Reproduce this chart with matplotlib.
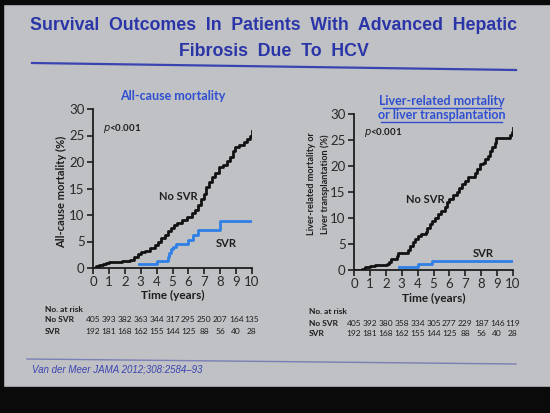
import matplotlib
matplotlib.use("Agg")
import matplotlib.pyplot as plt
from matplotlib.lines import Line2D
from matplotlib.patches import Rectangle

# ---------------- data ----------------
years = list(range(0, 11))

left_nosvr_t = [0.0, 0.2, 0.4, 0.6, 0.8, 1.0, 1.3, 1.8, 2.3, 2.6, 2.8, 3.0, 3.3, 3.6, 3.9, 4.1, 4.3, 4.5,
                4.7, 4.9, 5.1, 5.3, 5.6, 5.9, 6.2, 6.4, 6.6, 6.8, 6.95, 7.1, 7.3, 7.5, 7.7, 7.9, 8.2, 8.4,
                8.6, 8.8, 8.9, 9.2, 9.5, 9.7, 9.85, 10.0]
left_nosvr_v = [0.0, 0.3, 0.5, 0.8, 1.0, 1.1, 1.2, 1.3, 1.5, 2.0, 2.6, 3.0, 3.3, 3.8, 4.3, 5.0, 5.7, 6.3,
                6.9, 7.6, 8.2, 8.5, 9.0, 9.6, 10.3, 11.0, 11.8, 13.0, 14.0, 15.2, 16.3, 17.2, 18.0, 19.0, 19.5, 20.2,
                21.0, 22.0, 22.9, 23.3, 23.8, 24.3, 25.0, 25.8]

left_svr_t = [2.9, 4.0, 4.7, 4.8, 4.9, 5.0, 5.2, 6.0, 6.3, 6.6, 8.0, 10.0]
left_svr_v = [0.7, 1.3, 2.0, 2.8, 3.6, 4.0, 4.6, 5.3, 6.3, 7.2, 8.8, 8.8]

right_nosvr_t = [0.0, 0.5, 0.7, 1.0, 1.3, 2.1, 2.2, 2.35, 2.7, 2.75, 3.3, 3.4, 3.55, 3.7, 3.85, 4.0, 4.2, 4.5,
                 4.6, 4.75, 4.9, 5.1, 5.3, 5.5, 5.7, 5.85, 6.0, 6.2, 6.45, 6.6, 6.8, 7.0, 7.2, 7.5, 7.6, 7.75,
                 7.9, 8.1, 8.25, 8.4, 8.55, 8.7, 8.85, 8.95, 9.7, 9.8, 9.95, 10.0]
right_nosvr_v = [0.0, 0.2, 0.5, 0.7, 1.0, 1.1, 1.6, 2.2, 2.6, 3.3, 3.3, 3.9, 4.6, 5.3, 6.0, 6.6, 7.0, 7.3,
                 8.0, 8.8, 9.4, 10.0, 10.7, 11.4, 12.2, 13.0, 13.6, 14.5, 15.0, 15.8, 16.5, 17.2, 17.8, 17.9, 18.6, 19.4,
                 20.3, 20.6, 21.3, 22.0, 22.8, 23.6, 24.4, 25.3, 25.3, 26.0, 26.5, 27.3]

right_svr_t = [2.85, 4.05, 4.9, 10.0]
right_svr_v = [0.5, 1.1, 1.8, 1.8]

left_risk_nosvr = [405, 393, 382, 363, 344, 317, 295, 250, 207, 164, 135]
left_risk_svr = [192, 181, 168, 162, 155, 144, 125, 88, 56, 40, 28]
right_risk_nosvr = [405, 392, 380, 358, 334, 305, 277, 229, 187, 146, 119]
right_risk_svr = [192, 181, 168, 162, 155, 144, 125, 88, 56, 40, 28]

title_lines = ["Survival  Outcomes  In  Patients  With  Advanced  Hepatic", "Fibrosis  Due  To  HCV"]
citation = "Van der Meer JAMA 2012;308:2584\u201393"

# ---------------- style ----------------
W, H = 550, 413
BG = "#c0c1c5"
TITLE_BLUE = "#2a35a8"
PANEL_BLUE = "#2f4fd0"
SVR_BLUE = "#2f7fe6"
INK = "#1e1e1e"

fig = plt.figure(figsize=(W / 100, H / 100), dpi=100)
fig.patch.set_facecolor(BG)


def fx(px):
    return px / W


def fy(py):
    return 1 - py / H


# black photo borders
fig.add_artist(Rectangle((0, fy(413)), 1, fy(387) - fy(413), transform=fig.transFigure, color="#0a0a0a", zorder=0))
fig.add_artist(Rectangle((0, fy(4)), 1, 1 - fy(4), transform=fig.transFigure, color="#0a0a0a", zorder=0))
fig.add_artist(Rectangle((0, 0), fx(3), 1, transform=fig.transFigure, color="#0a0a0a", zorder=0))

# title
fig.text(fx(273), fy(26), title_lines[0], ha="center", va="center", fontsize=12.8,
         fontweight="bold", color=TITLE_BLUE, family="Liberation Sans")
fig.text(fx(274), fy(52), title_lines[1], ha="center", va="center", fontsize=12.8,
         fontweight="bold", color=TITLE_BLUE, family="Liberation Sans")
fig.add_artist(Line2D([fx(32), fx(516)], [fy(63), fy(70)], transform=fig.transFigure,
                      color="#3a44b0", lw=1.6))

# footer
fig.add_artist(Line2D([fx(27), fx(516)], [fy(359), fy(364)], transform=fig.transFigure,
                      color="#7a7fb5", lw=1.0))
fig.text(fx(32), fy(369), citation, ha="left", va="center", fontsize=7.0, style="italic",
         color="#3a44b0", family="Liberation Sans")


def make_axes(rect, nos_t, nos_v, svr_t, svr_v):
    ax = fig.add_axes(rect)
    ax.set_facecolor("none")
    ax.step(nos_t, nos_v, where="post", color="#111111", lw=2.0, zorder=3)
    ax.step(svr_t, svr_v, where="post", color=SVR_BLUE, lw=2.0, zorder=3)
    ax.set_xlim(0, 10)
    ax.set_ylim(0, 30)
    ax.set_xticks(years)
    ax.set_yticks([0, 5, 10, 15, 20, 25, 30])
    for s in ["top", "right"]:
        ax.spines[s].set_visible(False)
    for s in ["left", "bottom"]:
        ax.spines[s].set_color(INK)
        ax.spines[s].set_linewidth(1.3)
    ax.tick_params(direction="out", length=4, width=1.2, color=INK, labelsize=9.5,
                   labelcolor="#2a2a2a", pad=2)
    for lab in ax.get_xticklabels() + ax.get_yticklabels():
        lab.set_family("Lato")
    return ax


axL = make_axes([fx(93), fy(268), fx(252) - fx(93), fy(109) - fy(268)],
                left_nosvr_t, left_nosvr_v, left_svr_t, left_svr_v)
axR = make_axes([fx(354), fy(270), fx(513) - fx(354), fy(114) - fy(270)],
                right_nosvr_t, right_nosvr_v, right_svr_t, right_svr_v)

# panel titles
fig.text(fx(173), fy(96), "All-cause mortality", ha="center", va="center", fontsize=9,
         fontweight="bold", color=PANEL_BLUE, family="Lato")
fig.text(fx(442), fy(101), "Liver-related mortality", ha="center", va="center", fontsize=9,
         fontweight="bold", color=PANEL_BLUE, family="Lato")
fig.text(fx(442), fy(115), "or liver transplantation", ha="center", va="center", fontsize=9,
         fontweight="bold", color=PANEL_BLUE, family="Lato")
fig.add_artist(Line2D([fx(383), fx(501)], [fy(108), fy(108)], transform=fig.transFigure, color=PANEL_BLUE, lw=1.0))
fig.add_artist(Line2D([fx(381), fx(502)], [fy(122), fy(122)], transform=fig.transFigure, color=PANEL_BLUE, lw=1.0))

# y labels
fig.text(fx(62), fy(192), "All-cause mortality (%)", rotation=90, ha="center", va="center",
         fontsize=8, fontweight="bold", color=INK, family="Lato")
fig.text(fx(311), fy(184), "Liver-related mortality or", rotation=90, ha="center", va="center",
         fontsize=6.6, fontweight="bold", color=INK, family="Lato")
fig.text(fx(325), fy(184), "Liver transplantation (%)", rotation=90, ha="center", va="center",
         fontsize=6.6, fontweight="bold", color=INK, family="Lato")

# x labels
fig.text(fx(173), fy(295), "Time (years)", ha="center", va="center", fontsize=8.5,
         fontweight="bold", color=INK, family="Lato")
fig.text(fx(434), fy(298), "Time (years)", ha="center", va="center", fontsize=8.5,
         fontweight="bold", color=INK, family="Lato")

# p-values
for ax in (axL, axR):
    ax.text(0.06, 0.88, r"$\it{p}$<0.001", transform=ax.transAxes, ha="left", va="center",
            fontsize=7, fontweight="bold", color=INK, family="Lato")

# curve labels
axL.text(4.16, 13.5, "No SVR", ha="left", va="center", fontsize=8, fontweight="bold", color=INK, family="Lato")
axL.text(7.7, 4.6, "SVR", ha="left", va="center", fontsize=8, fontweight="bold", color=INK, family="Lato")
axR.text(3.24, 13.6, "No SVR", ha="left", va="center", fontsize=8, fontweight="bold", color=INK, family="Lato")
axR.text(7.5, 3.2, "SVR", ha="left", va="center", fontsize=8, fontweight="bold", color=INK, family="Lato")


# risk tables
def risk_table(ax, x_lab, y0, nos, svr):
    fig.text(fx(x_lab), fy(y0), "No. at risk", ha="left", va="center", fontsize=6,
             fontweight="bold", color=INK, family="Lato")
    fig.text(fx(x_lab), fy(y0 + 11), "No SVR", ha="left", va="center", fontsize=6,
             fontweight="bold", color=INK, family="Lato")
    fig.text(fx(x_lab), fy(y0 + 22), "SVR", ha="left", va="center", fontsize=6,
             fontweight="bold", color=INK, family="Lato")
    for t, a, b in zip(years, nos, svr):
        xd = ax.transData.transform((t, 0))[0] / fig.dpi / fig.get_size_inches()[0]
        fig.text(xd, fy(y0 + 11), str(a), ha="center", va="center", fontsize=6,
                 color=INK, family="Lato")
        fig.text(xd, fy(y0 + 22), str(b), ha="center", va="center", fontsize=6,
                 color=INK, family="Lato")


risk_table(axL, 45, 309, left_risk_nosvr, left_risk_svr)
risk_table(axR, 309, 312, right_risk_nosvr, right_risk_svr)

fig.savefig("out.png", dpi=100, facecolor=BG)
